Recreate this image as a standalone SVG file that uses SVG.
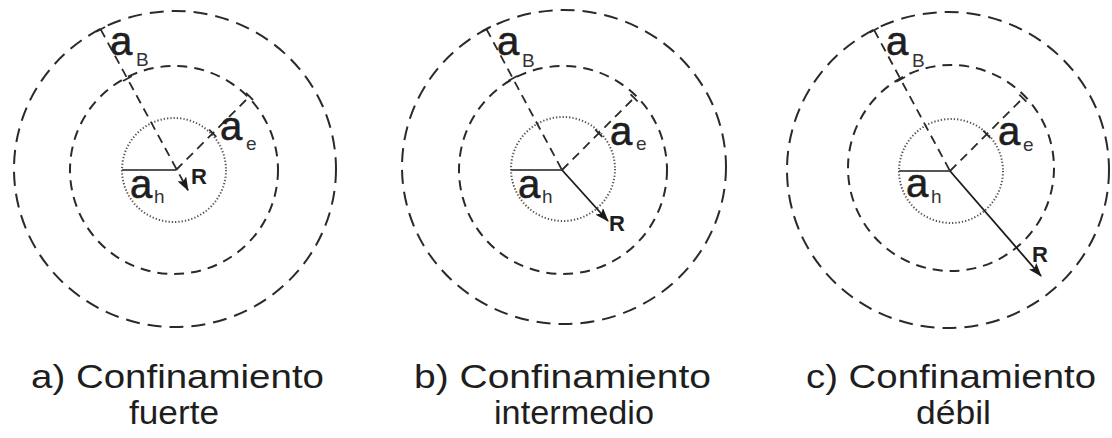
<svg xmlns="http://www.w3.org/2000/svg" width="1112" height="438" viewBox="0 0 1112 438">
<style>
.outer{fill:none;stroke:#2a2a2a;stroke-width:2;stroke-dasharray:14 8}
.inner{fill:none;stroke:#2a2a2a;stroke-width:2;stroke-dasharray:10 7}
.dot{fill:none;stroke:#555;stroke-width:2;stroke-dasharray:1.3 2}
.rad{fill:none;stroke:#2a2a2a;stroke-width:1.8;stroke-dasharray:9 6}
.tick{stroke:#2a2a2a;stroke-width:1.8}
.hl{stroke:#555;stroke-width:2.2}
.arr{stroke:#1a1a1a;stroke-width:1.8;fill:none}
.big{font-family:"Liberation Sans",Arial,sans-serif;font-size:40px;fill:#1e1e1e;stroke:#1e1e1e;stroke-width:0.6}
.sub{font-family:"Liberation Sans",Arial,sans-serif;font-size:19px;fill:#333}
.r{font-family:"Liberation Sans",Arial,sans-serif;font-size:22px;font-weight:bold;fill:#1e1e1e}
.cap{font-family:"Liberation Sans",Arial,sans-serif;font-size:33px;fill:#1e1e1e}
</style>
<defs>
<marker id="ah" markerUnits="userSpaceOnUse" markerWidth="14" markerHeight="10" refX="13" refY="5" orient="auto">
<path d="M0,0 L14,5 L0,10 L3,5 z" fill="#1a1a1a"/>
</marker>
</defs>

<g id="panel-a">
<ellipse class="outer" cx="175" cy="169" rx="161" ry="158"/>
<circle class="inner" cx="174" cy="170" r="104"/>
<circle class="dot" cx="174" cy="170" r="52"/>
<line class="hl" x1="122" y1="170" x2="176" y2="170"/>
<g transform="translate(177,170) rotate(241.5)">
<line class="rad" x1="160" y1="0" x2="-23" y2="0" marker-end="url(#ah)"/>
<line class="tick" x1="160" y1="-5" x2="160" y2="5"/>
<line class="tick" x1="104" y1="-5" x2="104" y2="5"/>
</g>
<g transform="translate(176,170) rotate(-45)">
<line class="rad" x1="0" y1="0" x2="104" y2="0"/>
<line class="tick" x1="52" y1="-5" x2="52" y2="5"/>
<line class="tick" x1="104" y1="-5" x2="104" y2="5"/>
</g>
<text class="big" x="110" y="55">a</text><text class="sub" x="136" y="66">B</text>
<text class="big" x="220" y="140">a</text><text class="sub" x="246" y="150">e</text>
<text class="big" x="130" y="198">a</text><text class="sub" x="154" y="203">h</text>
<text class="r" x="191" y="184">R</text>
<text class="cap" x="31" y="388" textLength="293" lengthAdjust="spacingAndGlyphs">a) Confinamiento</text>
<text class="cap" x="129" y="424" textLength="90" lengthAdjust="spacingAndGlyphs">fuerte</text>
</g>

<g id="panel-b">
<ellipse class="outer" cx="564" cy="167" rx="162" ry="157"/>
<circle class="inner" cx="563" cy="170" r="104"/>
<circle class="dot" cx="563" cy="169" r="52"/>
<line class="hl" x1="511" y1="170" x2="562" y2="170"/>
<g transform="translate(562,170) rotate(241.8)">
<line class="rad" x1="160" y1="0" x2="0" y2="0"/>
<line class="tick" x1="160" y1="-5" x2="160" y2="5"/>
<line class="tick" x1="104" y1="-5" x2="104" y2="5"/>
</g>
<g transform="translate(562,170) rotate(-45)">
<line class="rad" x1="0" y1="0" x2="102" y2="0"/>
<line class="tick" x1="52" y1="-5" x2="52" y2="5"/>
<line class="tick" x1="102" y1="-5" x2="102" y2="5"/>
</g>
<line class="arr" x1="562" y1="170" x2="608" y2="221" marker-end="url(#ah)"/>
<text class="big" x="497" y="55">a</text><text class="sub" x="522" y="67">B</text>
<text class="big" x="610" y="145">a</text><text class="sub" x="636" y="150">e</text>
<text class="big" x="518" y="198">a</text><text class="sub" x="542" y="203">h</text>
<text class="r" x="609" y="231">R</text>
<text class="cap" x="414" y="388" textLength="297" lengthAdjust="spacingAndGlyphs">b) Confinamiento</text>
<text class="cap" x="494" y="424" textLength="160" lengthAdjust="spacingAndGlyphs">intermedio</text>
</g>

<g id="panel-c">
<ellipse class="outer" cx="948" cy="170" rx="161" ry="158"/>
<circle class="inner" cx="951" cy="168" r="103"/>
<circle class="dot" cx="951" cy="171" r="52"/>
<line class="hl" x1="899" y1="171" x2="950" y2="171"/>
<g transform="translate(950,171) rotate(241.7)">
<line class="rad" x1="160" y1="0" x2="0" y2="0"/>
<line class="tick" x1="160" y1="-5" x2="160" y2="5"/>
<line class="tick" x1="104" y1="-5" x2="104" y2="5"/>
</g>
<g transform="translate(950,171) rotate(-45)">
<line class="rad" x1="0" y1="0" x2="103" y2="0"/>
<line class="tick" x1="52" y1="-5" x2="52" y2="5"/>
<line class="tick" x1="103" y1="-5" x2="103" y2="5"/>
</g>
<line class="arr" x1="950" y1="171" x2="1041" y2="276" marker-end="url(#ah)"/>
<text class="big" x="886" y="55">a</text><text class="sub" x="912" y="67">B</text>
<text class="big" x="998" y="145">a</text><text class="sub" x="1023" y="151">e</text>
<text class="big" x="906" y="197">a</text><text class="sub" x="931" y="203">h</text>
<text class="r" x="1032" y="262">R</text>
<text class="cap" x="806" y="388" textLength="290" lengthAdjust="spacingAndGlyphs">c) Confinamiento</text>
<text class="cap" x="916" y="424" textLength="75" lengthAdjust="spacingAndGlyphs">débil</text>
</g>
</svg>
